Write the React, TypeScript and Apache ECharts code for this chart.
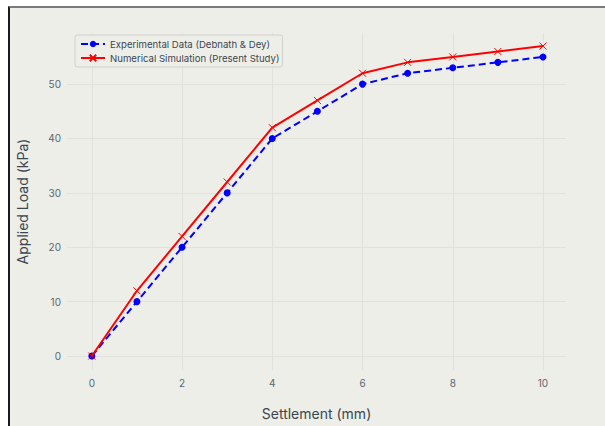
import React, { useEffect, useRef } from "react";
import * as echarts from "echarts";

const settlement = [0, 1, 2, 3, 4, 5, 6, 7, 8, 9, 10];
const experimental = [0, 10, 20, 30, 40, 45, 50, 52, 53, 54, 55];
const numerical = [0, 12, 22, 32, 42, 47, 52, 54, 55, 56, 57];
const xTicks = [0, 2, 4, 6, 8, 10];
const yTicks = [0, 10, 20, 30, 40, 50];

const FONT = "Inter, 'Open Sans', 'Noto Sans', sans-serif";

export default function App() {
  const ref = useRef<HTMLDivElement>(null);
  useEffect(() => {
    if (!ref.current) return;
    const chart = echarts.init(ref.current, undefined, { renderer: "svg" });
    const pair = (ys: number[]) => settlement.map((x, i) => [x, ys[i]]);
    chart.setOption({
      animation: false,
      textStyle: { fontFamily: FONT },
      grid: { left: 67, right: 39, top: 33, bottom: 56 },
      legend: {
        left: 75,
        top: 35,
        orient: "vertical",
        backgroundColor: "#eeeee9",
        borderColor: "#d0d0cc",
        borderWidth: 1,
        borderRadius: 2,
        padding: [4, 3, 4, 5],
        itemGap: 4,
        itemWidth: 24,
        itemHeight: 8,
        textStyle: { fontFamily: FONT, fontSize: 9.6, color: "#3a4650" },
        data: [
          "Experimental Data (Debnath & Dey)",
          "Numerical Simulation (Present Study)",
        ],
      },
      xAxis: {
        type: "value",
        min: -0.55,
        max: 10.51,
        name: "Settlement (mm)",
        nameLocation: "middle",
        nameGap: 36,
        nameTextStyle: { fontFamily: FONT, fontSize: 14, color: "#3a4650" },
        axisLine: { show: false },
        axisTick: { show: false, customValues: xTicks },
        axisLabel: {
          customValues: xTicks,
          margin: 8,
          fontSize: 10,
          color: "#5a6670",
          fontFamily: FONT,
        },
        splitLine: { show: true, lineStyle: { color: "#e2e2dd", width: 1 } },
      },
      yAxis: {
        type: "value",
        min: -2.57,
        max: 59.4,
        name: "Applied Load (kPa)",
        nameLocation: "middle",
        nameGap: 38,
        nameTextStyle: { fontFamily: FONT, fontSize: 14, color: "#3a4650" },
        axisLine: { show: false },
        axisTick: { show: false, customValues: yTicks },
        axisLabel: {
          customValues: yTicks,
          margin: 6,
          fontSize: 10,
          color: "#5a6670",
          fontFamily: FONT,
        },
        splitLine: { show: true, lineStyle: { color: "#e2e2dd", width: 1 } },
      },
      series: [
        {
          name: "Experimental Data (Debnath & Dey)",
          type: "line",
          data: pair(experimental),
          symbol: "circle",
          symbolSize: 7,
          lineStyle: { color: "#0000ff", width: 2, type: [7, 4] },
          itemStyle: { color: "#0000ff" },
          z: 2,
        },
        {
          name: "Numerical Simulation (Present Study)",
          type: "line",
          data: pair(numerical),
          symbol: "path://M0,0 L10,10 M10,0 L0,10",
          symbolSize: 7,
          lineStyle: { color: "#ff0000", width: 2 },
          itemStyle: { color: "#ff0000", borderColor: "#ff0000", borderWidth: 1 },
          z: 3,
        },
      ],
    });
    return () => chart.dispose();
  }, []);
  return (
    <div style={{ position: "absolute", left: 0, top: 0, width: 605, height: 426, background: "#ffffff", overflow: "hidden" }}>
      <div
        style={{
          position: "absolute",
          left: 8,
          top: 6,
          width: 597,
          height: 420,
          background: "#eeeee9",
          borderTop: "2px solid #7a7a7a",
          borderLeft: "2px solid #1a1a1a",
          boxSizing: "border-box",
        }}
      />
      <div ref={ref} style={{ position: "absolute", left: 0, top: 0, width: 605, height: 426 }} />
    </div>
  );
}
